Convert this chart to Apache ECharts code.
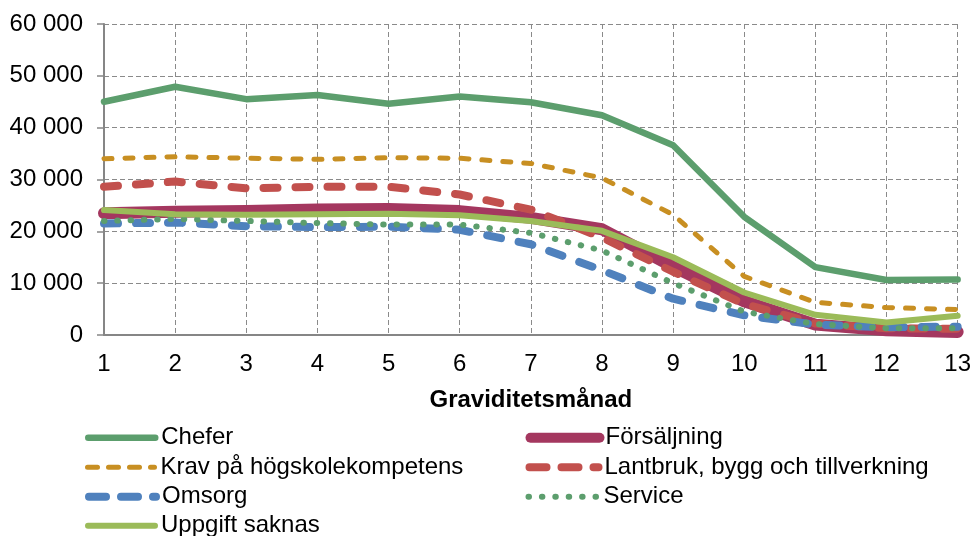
<!DOCTYPE html>
<html>
<head>
<meta charset="utf-8">
<script src="https://cdn.jsdelivr.net/npm/echarts@6/dist/echarts.min.js"></script>
<style>
  html, body { margin: 0; padding: 0; background: #fff; }
  #chart { width: 974px; height: 536px; }
</style>
</head>
<body>
<div id="chart"></div>
<script>
// Månad i graviditeten (kategorier på x-axeln)
const months = ['1', '2', '3', '4', '5', '6', '7', '8', '9', '10', '11', '12', '13'];
const yTicks = [0, 10000, 20000, 30000, 40000, 50000, 60000];

const chefer       = [45000, 47900, 45500, 46300, 44600, 46000, 44900, 42400, 36600, 22800, 13100, 10600, 10700];
const forsaljning  = [23500, 23800, 23900, 24200, 24300, 23900, 22600, 20400, 13200, 6500, 2000, 900, 600];
const krav         = [34000, 34400, 34100, 33900, 34200, 34100, 33100, 30300, 23200, 11300, 6300, 5300, 4900];
const lantbruk     = [28600, 29600, 28300, 28600, 28600, 27100, 24200, 18800, 12200, 6000, 2200, 1300, 1200];
const omsorg       = [21500, 21700, 21000, 20800, 20900, 20300, 17500, 12500, 7000, 3800, 2000, 1500, 1600];
const service      = [22000, 22400, 22000, 21600, 21300, 21300, 19700, 16300, 10000, 4500, 2100, 1300, 1300];
const uppgift      = [24100, 23300, 23200, 23300, 23400, 23100, 22000, 20100, 15000, 8200, 3900, 2400, 3700];

const FONT = '"Liberation Sans", Arial, sans-serif';
const FS = 24;

function fmt(v) {
  return String(v).replace(/\B(?=(\d{3})+(?!\d))/g, ' ');
}

// Linjestil per yrkesgrupp: i diagrammet och i teckenförklaringen
const styles = {
  'Chefer':                          { color: '#5c9e6d', width: 6.5, type: 'solid',      legendWidth: 6.5, legendType: 'solid' },
  'Försäljning':                     { color: '#a4375f', width: 12,  type: 'solid',      legendWidth: 10,  legendType: 'solid' },
  'Krav på högskolekompetens':       { color: '#c88f22', width: 5,   type: [8, 13],      legendWidth: 5,   legendType: [10, 11] },
  'Lantbruk, bygg och tillverkning': { color: '#c2504d', width: 8,   type: [14, 18],     legendWidth: 8,   legendType: [17, 15] },
  'Omsorg':                          { color: '#4f81bd', width: 8,   type: [14, 18],     legendWidth: 8,   legendType: [17, 15] },
  'Service':                         { color: '#5c9e6d', width: 6,   type: [0.5, 12.8],  legendWidth: 6,   legendType: [0.5, 12.9] },
  'Uppgift saknas':                  { color: '#9bbb59', width: 6,   type: 'solid',      legendWidth: 6,   legendType: 'solid' }
};

const seriesData = [
  ['Chefer', chefer],
  ['Försäljning', forsaljning],
  ['Krav på högskolekompetens', krav],
  ['Lantbruk, bygg och tillverkning', lantbruk],
  ['Omsorg', omsorg],
  ['Service', service],
  ['Uppgift saknas', uppgift]
];

const series = seriesData.map(([name, values], i) => {
  const s = styles[name];
  return {
    name: name,
    type: 'line',
    data: values,
    symbol: 'none',
    z: 2 + i,
    color: s.color,
    lineStyle: { color: s.color, width: s.width, type: s.type, cap: 'round', join: 'round' },
    emphasis: { disabled: true }
  };
});

// Teckenförklaring i två kolumner, en komponent per post
const legendRows = [437.7, 467.3, 496.8, 525.8];
const legendCols = [
  { left: 85, itemWidth: 67, pad: 1 },
  { left: 525.5, itemWidth: 69, pad: 1 }
];
const legendLayout = [
  ['Chefer', 0, 0],
  ['Försäljning', 1, 0],
  ['Krav på högskolekompetens', 0, 1],
  ['Lantbruk, bygg och tillverkning', 1, 1],
  ['Omsorg', 0, 2],
  ['Service', 1, 2],
  ['Uppgift saknas', 0, 3]
];

const legends = legendLayout.map(([name, col, row]) => {
  const s = styles[name];
  const c = legendCols[col];
  return {
    left: c.left,
    top: legendRows[row] - FS / 2,
    padding: 0,
    itemWidth: c.itemWidth,
    itemHeight: 14,
    selectedMode: false,
    textStyle: { fontFamily: FONT, fontSize: FS, color: '#000', lineHeight: FS, padding: [0, 0, 0, c.pad] },
    data: [{
      name: name,
      itemStyle: { opacity: 0 },
      lineStyle: { color: s.color, width: s.legendWidth, type: s.legendType, cap: 'round' }
    }]
  };
});

const option = {
  animation: false,
  backgroundColor: '#fff',
  grid: { left: 104, right: 14, top: 24, bottom: 201, containLabel: false },
  legend: legends,
  xAxis: {
    type: 'category',
    data: months,
    boundaryGap: false,
    name: 'Graviditetsmånad',
    nameLocation: 'middle',
    nameGap: 53,
    nameTextStyle: { fontFamily: FONT, fontSize: FS, fontWeight: 'bold', color: '#000' },
    axisLine: { lineStyle: { color: '#868686', width: 2 } },
    axisTick: { show: false },
    axisLabel: { fontFamily: FONT, fontSize: FS, color: '#000', margin: 17 },
    splitLine: { show: true, lineStyle: { color: '#8a8a8a', width: 1, type: [5, 3] } }
  },
  yAxis: {
    type: 'value',
    min: yTicks[0],
    max: yTicks[yTicks.length - 1],
    interval: yTicks[1] - yTicks[0],
    axisLine: { show: true, lineStyle: { color: '#868686', width: 2 } },
    axisTick: { show: true, length: 7, lineStyle: { color: '#868686', width: 1.5 } },
    axisLabel: { fontFamily: FONT, fontSize: FS, color: '#000', margin: 21, formatter: fmt },
    splitLine: { show: true, lineStyle: { color: '#8a8a8a', width: 1, type: [5, 3] } }
  },
  series: series
};

const chart = echarts.init(document.getElementById('chart'), null, { renderer: 'canvas' });
chart.setOption(option);
</script>
</body>
</html>
